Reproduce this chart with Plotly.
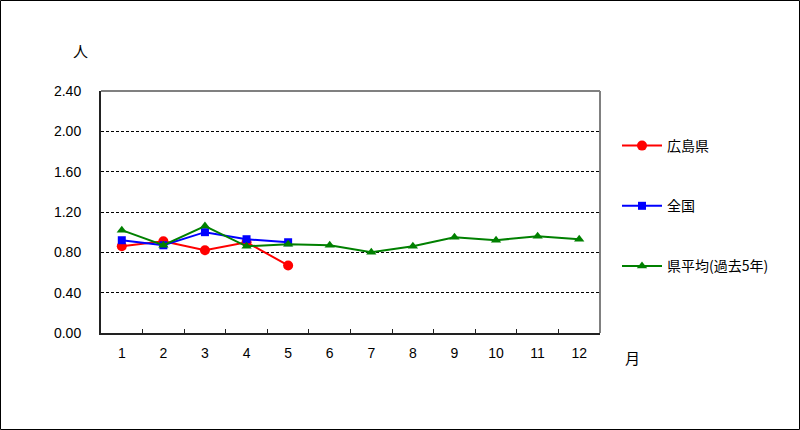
import plotly.graph_objects as go

months = ["1", "2", "3", "4", "5", "6", "7", "8", "9", "10", "11", "12"]
hiroshima = [0.86, 0.91, 0.82, 0.90, 0.67]
zenkoku = [0.92, 0.87, 1.00, 0.93, 0.90]
kenheikin = [1.02, 0.87, 1.06, 0.86, 0.88, 0.87, 0.80, 0.86, 0.95, 0.92, 0.96, 0.93]
ytick_vals = [0, 0.4, 0.8, 1.2, 1.6, 2.0, 2.4]
ytick_text = ["0.00", "0.40", "0.80", "1.20", "1.60", "2.00", "2.40"]

font_jp = "Noto Sans CJK JP"
font_num = "Liberation Sans, Arial, sans-serif"

fig = go.Figure()
fig.add_trace(go.Scatter(x=months[:len(hiroshima)], y=hiroshima, name="広島県", mode="lines+markers",
                         line=dict(color="#ff0000", width=2), marker=dict(symbol="circle", size=10, color="#ff0000"),
                         legendgroup="a"))
fig.add_trace(go.Scatter(x=months[:len(zenkoku)], y=zenkoku, name="全国", mode="lines+markers",
                         line=dict(color="#0000ff", width=2), marker=dict(symbol="square", size=8, color="#0000ff"),
                         legendgroup="b"))
fig.add_trace(go.Scatter(x=months, y=kenheikin, name="県平均(過去5年)", mode="lines+markers",
                         line=dict(color="#008000", width=2), marker=dict(symbol="triangle-up", size=9, color="#008000"),
                         legendgroup="c"))

L, R, T, B = 101, 200, 91, 97
W, H = 800 - L - R, 430 - T - B

fig.update_layout(
    width=800, height=430,
    margin=dict(l=L, r=R, t=T, b=B, pad=0),
    paper_bgcolor="white", plot_bgcolor="white",
    font=dict(family=font_num, size=14, color="black"),
    showlegend=True,
    legend=dict(x=(617 - L) / W, y=(333 - 130) / H, xanchor="left", yanchor="top",
                font=dict(family=font_jp, size=14, color="black"),
                tracegroupgap=39, bgcolor="rgba(0,0,0,0)", itemwidth=40),
    xaxis=dict(type="category", categoryorder="array", categoryarray=months, range=[-0.5, 11.5],
               showline=True, linecolor="#222222", linewidth=2,
               ticks="inside", tickson="boundaries", ticklen=4, tickcolor="#222222", tickwidth=1,
               showgrid=False, zeroline=False, tickfont=dict(size=14), ticklabelstandoff=6),
    yaxis=dict(range=[0, 2.4], tickvals=ytick_vals, ticktext=ytick_text,
               showline=True, linecolor="#222222", linewidth=2, ticks="",
               showgrid=True, gridcolor="black", gridwidth=1, griddash="3px,2px",
               zeroline=False, tickfont=dict(size=14), ticklabelstandoff=15),
)

# gray top & right borders of plot area
fig.add_shape(type="line", xref="paper", yref="paper", x0=0, x1=1, y0=1, y1=1,
              line=dict(color="#808080", width=2))
fig.add_shape(type="line", xref="paper", yref="paper", x0=1, x1=1, y0=0, y1=1,
              line=dict(color="#808080", width=2))
# outer border of whole chart
fig.add_shape(type="rect", xref="paper", yref="paper",
              x0=(0.5 - L) / W, x1=(799.5 - L) / W,
              y0=(333 - 429.5) / H, y1=(333 - 0.5) / H,
              line=dict(color="black", width=1), fillcolor="rgba(0,0,0,0)")

fig.add_annotation(text="人", xref="paper", yref="paper", x=(80 - L) / W, y=(333 - 50) / H,
                   xanchor="center", yanchor="middle",
                   showarrow=False, font=dict(family=font_jp, size=15, color="black"))
fig.add_annotation(text="月", xref="paper", yref="paper", x=(632 - L) / W, y=(333 - 357) / H,
                   xanchor="center", yanchor="middle",
                   showarrow=False, font=dict(family=font_jp, size=15, color="black"))

fig.write_html("out.html")
